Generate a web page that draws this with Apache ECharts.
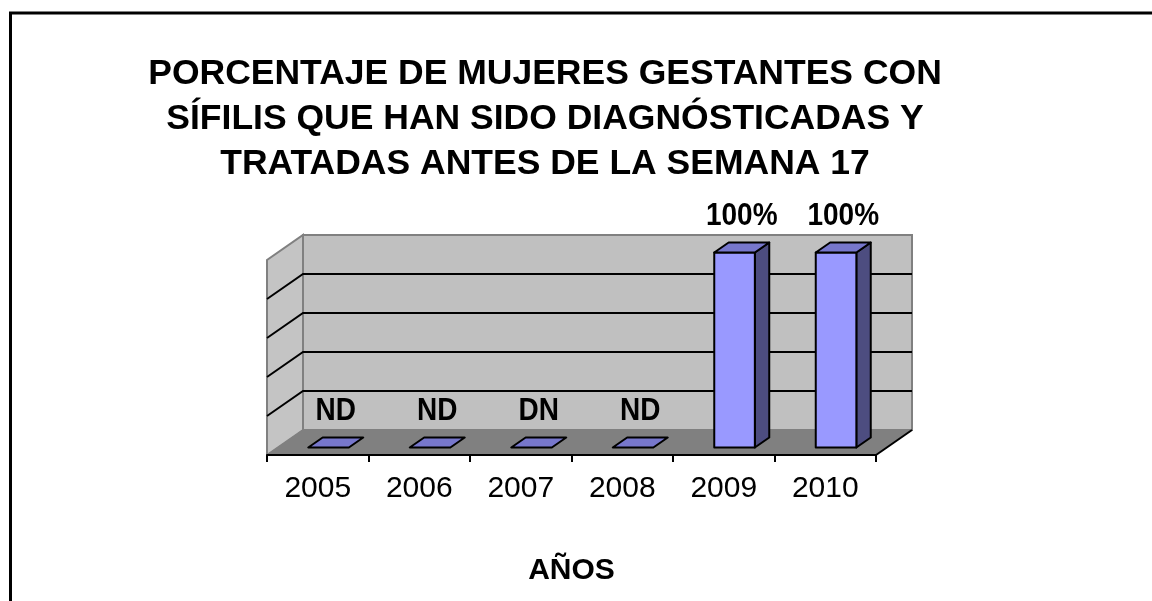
<!DOCTYPE html>
<html>
<head>
<meta charset="utf-8">
<script src="https://cdn.jsdelivr.net/npm/echarts@6/dist/echarts.min.js"></script>
<style>html,body{margin:0;padding:0;background:#fff}#chart{width:1152px;height:601px}</style>
</head>
<body>
<div id="chart"></div>
<script>
// datos del gráfico
var years = ['2005', '2006', '2007', '2008', '2009', '2010'];
var values = [0, 0, 0, 0, 100, 100];
var labels = ['ND', 'ND', 'DN', 'ND', '100%', '100%'];
var yTicks = [0, 20, 40, 60, 80, 100];

var FONT = "'Liberation Sans', Arial, sans-serif";
var DX = 36, DY = -25; // profundidad del efecto 3D (px)

// paredes, piso y líneas de división
function renderWalls(params, api) {
    var cs = params.coordSys;
    var x0 = cs.x, x1 = cs.x + cs.width;
    var yb = api.coord([0, yTicks[0]])[1];
    var yt = api.coord([0, yTicks[yTicks.length - 1]])[1];
    var kids = [];
    kids.push({type: 'polygon', shape: {points: [[x0 + DX, yb + DY], [x1 + DX, yb + DY], [x1 + DX, yt + DY], [x0 + DX, yt + DY]]},
        style: {fill: '#c0c0c0', stroke: '#808080', lineWidth: 2}});
    kids.push({type: 'polygon', shape: {points: [[x0, yb], [x0 + DX, yb + DY], [x0 + DX, yt + DY], [x0, yt]]},
        style: {fill: '#c4c4c4', stroke: '#808080', lineWidth: 2}});
    kids.push({type: 'polygon', shape: {points: [[x0, yb], [x1, yb], [x1 + DX, yb + DY], [x0 + DX, yb + DY]]},
        style: {fill: '#808080', stroke: '#808080', lineWidth: 1}});
    yTicks.slice(1, -1).forEach(function (v) {
        var y = api.coord([0, v])[1];
        kids.push({type: 'polyline', shape: {points: [[x0, y], [x0 + DX, y + DY], [x1 + DX, y + DY]]},
            style: {fill: null, stroke: '#000', lineWidth: 2}});
    });
    kids.push({type: 'line', shape: {x1: x1, y1: yb, x2: x1 + DX, y2: yb + DY}, style: {stroke: '#000', lineWidth: 2}});
    return {type: 'group', children: kids};
}

// barras 3D
function renderBar(params, api) {
    var idx = api.value(0);
    var c0 = api.coord([idx, 0]);
    var c1 = api.coord([idx, api.value(1)]);
    var w = api.size([1, 0])[0] * 0.4;
    var fx = DX * 0.3, fy = DY * 0.3, bx = DX * 0.7, by = DY * 0.7;
    var l = c0[0] - w / 2, r = c0[0] + w / 2, yb = c0[1], yt = c1[1];
    var line = {stroke: '#000', lineWidth: 2, lineJoin: 'round'};
    var kids = [];
    if (yb - yt > 1) {
        kids.push({type: 'polygon', shape: {points: [[r + fx, yb + fy], [r + bx, yb + by], [r + bx, yt + by], [r + fx, yt + fy]]},
            style: Object.assign({fill: '#4d4d80'}, line)});
        kids.push({type: 'polygon', shape: {points: [[l + fx, yb + fy], [r + fx, yb + fy], [r + fx, yt + fy], [l + fx, yt + fy]]},
            style: Object.assign({fill: '#9999ff'}, line)});
    }
    kids.push({type: 'polygon', shape: {points: [[l + fx, yt + fy], [r + fx, yt + fy], [r + bx, yt + by], [l + bx, yt + by]]},
        style: Object.assign({fill: '#7777cc'}, line)});
    kids.push({type: 'text', scaleY: 1.1, originY: yt + (fy + by) / 2 - 31, originX: c0[0], style: {
        text: labels[idx], x: c0[0] + (fx + bx) / 2, y: yt + (fy + by) / 2 - 31,
        fill: '#000', font: 'bold 28px ' + FONT, align: 'center', verticalAlign: 'middle'}});
    return {type: 'group', children: kids};
}

var chart = echarts.init(document.getElementById('chart'));
var option = {
    backgroundColor: '#fff',
    animation: false,
    title: {
        text: 'PORCENTAJE DE MUJERES GESTANTES CON\nSÍFILIS QUE HAN SIDO DIAGNÓSTICADAS Y\nTRATADAS ANTES DE LA SEMANA 17',
        left: 540, top: 47, textAlign: 'center',
        textStyle: {fontFamily: FONT, fontWeight: 'bold', fontSize: 35.5, lineHeight: 45, color: '#000'}
    },
    graphic: [{type: 'rect', shape: {x: 10.5, y: 13, width: 1400, height: 900},
        style: {fill: 'none', stroke: '#000', lineWidth: 3}, z: 100}],
    grid: {left: 267, right: 276, top: 260, bottom: 146},
    xAxis: {
        type: 'category', data: years, z: 10,
        axisLine: {lineStyle: {color: '#000', width: 2}},
        axisTick: {show: true, length: 7, lineStyle: {color: '#000', width: 2}},
        axisLabel: {color: '#000', fontFamily: FONT, fontSize: 30, margin: 19},
        name: 'AÑOS', nameLocation: 'middle', nameGap: 101,
        nameTextStyle: {color: '#000', fontFamily: FONT, fontWeight: 'bold', fontSize: 30}
    },
    yAxis: {type: 'value', min: 0, max: 100, interval: 20, show: false},
    series: [
        {type: 'custom', renderItem: renderWalls, data: [[0, 0]], z: 1, silent: true},
        {type: 'custom', renderItem: renderBar, data: years.map(function (y, i) { return [i, values[i]]; }), z: 3}
    ]
};
chart.setOption(option);
</script>
</body>
</html>
